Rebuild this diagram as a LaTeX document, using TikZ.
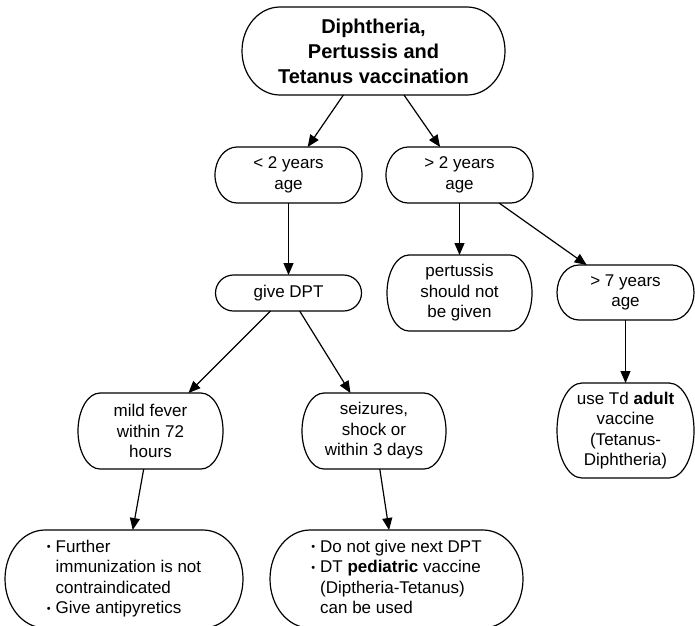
\documentclass[tikz,border=0pt]{standalone}
\usepackage{fontspec}
\setmainfont{Liberation Sans}
\usetikzlibrary{arrows.meta,calc}
% oval-ended frame round a named node: #1 node, #2 x radius of the ends (pt)
\newcommand{\termframe}[2]{%
  \draw[frame] let \p1=(#1.north west), \p2=(#1.south east), \n1={0.5*(\y1-\y2)} in
    (\x1+#2pt,\y1) -- (\x2-#2pt,\y1)
    arc[start angle=90, end angle=-90, x radius=#2pt, y radius=\n1*1pt]
    -- (\x1+#2pt,\y2)
    arc[start angle=270, end angle=90, x radius=#2pt, y radius=\n1*1pt] -- cycle;}
\newcommand{\bul}{\raisebox{1.5pt}{\fontsize{11}{11}\selectfont•}}
\tikzset{
  term/.style={font=\fontsize{17}{20.5}\selectfont, align=center, inner sep=0pt, outer sep=0pt},
  ttl/.style={term, font=\fontsize{20}{25}\selectfont\bfseries},
  frame/.style={line width=1.2pt},
  arr/.style={-{Triangle[length=12pt,width=10pt]}, line width=1.2pt},
}

\begin{document}
\begin{tikzpicture}[x=1pt, y=-1pt]
\path[use as bounding box, clip] (0,0) rectangle (695,625);
% nodes
\node[ttl, minimum width=263, minimum height=88] (top) at (373.5,51)
  {Diphtheria,\\Pertussis and\\Tetanus vaccination};
\node[term, minimum width=147, minimum height=56] (lt2) at (288.5,175) {< 2 years\\age};
\node[term, minimum width=147, minimum height=56] (gt2) at (459.5,175) {> 2 years\\age};
\node[term, minimum width=146, minimum height=36] (give) at (288.5,293) {give DPT};
\node[term, minimum width=145, minimum height=76] (pert) at (459.5,293)
  {pertussis\\should not\\be given};
\node[term, minimum width=137, minimum height=55] (gt7) at (625.5,292.5) {> 7 years\\age};
\node[term, minimum width=137, minimum height=95] (td) at (625.5,430.5)
  {use Td \textbf{adult}\\vaccine\\(Tetanus-\\Diphtheria)};
\node[term, minimum width=145, minimum height=76] (mild) at (150.5,431)
  {mild fever\\within 72\\hours};
\node[term, minimum width=144, minimum height=76] (seiz) at (374,431)
  {seizures,\\shock or\\within 3 days};
\node[term, minimum width=238, minimum height=98] (fur) at (124,579)
  {\begin{tabular}{@{}l@{\hspace{5pt}}l@{}}
   \bul & Further\\
        & immunization is not\\
        & contraindicated\\
   \bul & Give antipyretics
   \end{tabular}};
\node[term, minimum width=253, minimum height=98] (dont) at (396.5,579)
  {\begin{tabular}{@{}l@{\hspace{5pt}}l@{}}
   \bul & Do not give next DPT\\
   \bul & DT \textbf{pediatric} vaccine\\
        & (Diptheria-Tetanus)\\
        & can be used
   \end{tabular}};
% frames
\foreach \nd/\rad in {top/38, lt2/22, gt2/22, give/18, pert/22, gt7/22,
                      td/25, mild/22, seiz/22, fur/40, dont/40}
  \termframe{\nd}{\rad};
% connectors
\draw[arr] (top) -- (lt2);
\draw[arr] (top) -- (gt2);
\draw[arr] (lt2) -- (give);
\draw[arr] (gt2) -- (pert);
\draw[arr] (gt2) -- (gt7);
\draw[arr] (gt7) -- (td);
\draw[arr] (give) -- (mild);
\draw[arr] (give) -- (seiz);
\draw[arr] (mild) -- (fur);
\draw[arr] (seiz) -- (dont);
\end{tikzpicture}
\end{document}
